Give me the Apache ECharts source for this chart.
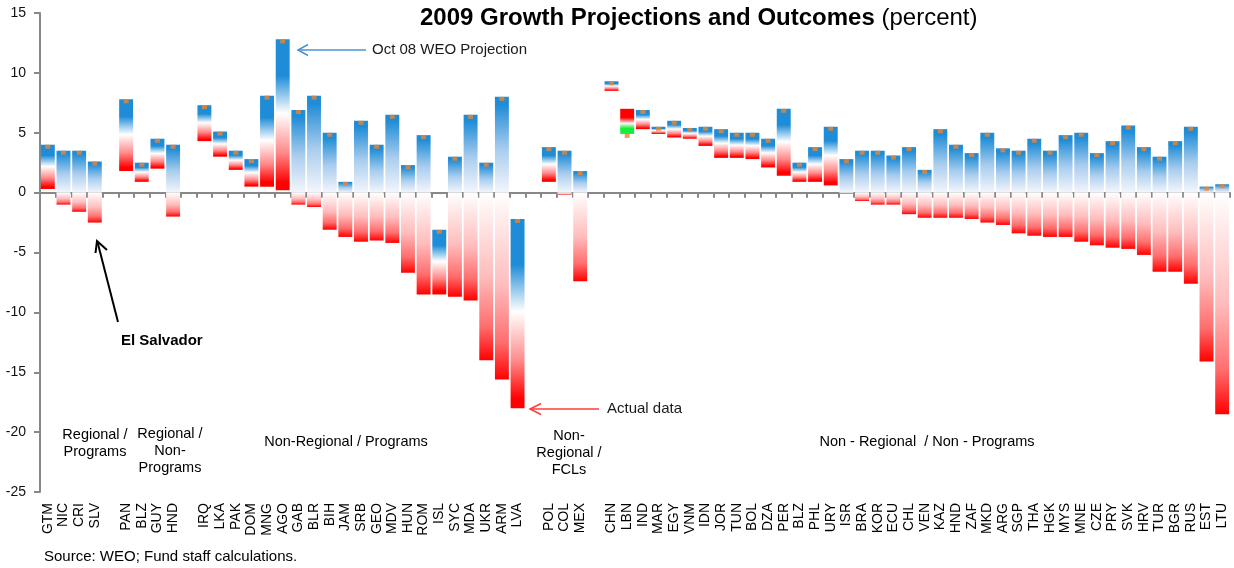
<!DOCTYPE html>
<html>
<head>
<meta charset="utf-8">
<script src="https://cdn.jsdelivr.net/npm/echarts@6/dist/echarts.min.js"></script>
<style>
html,body{margin:0;padding:0;background:#fff;}
#chart{width:1234px;height:568px;}
</style>
</head>
<body>
<div id="chart"></div>
<script>
// ---- data (gaps between country groups are empty categories) ----
const categories = ['GTM','NIC','CRI','SLV','','PAN','BLZ','GUY','HND','',
  'IRQ','LKA','PAK','DOM','MNG','AGO','GAB','BLR','BIH','JAM','SRB','GEO','MDV','HUN','ROM','ISL','SYC','MDA','UKR','ARM','LVA','',
  'POL','COL','MEX','',
  'CHN','LBN','IND','MAR','EGY','VNM','IDN','JOR','TUN','BOL','DZA','PER','BLZ','PHL','URY','ISR','BRA','KOR','ECU','CHL','VEN','KAZ','HND','ZAF','MKD','ARG','SGP','THA','HGK','MYS','MNE','CZE','PRY','SVK','HRV','TUR','BGR','RUS','EST','LTU'];

// Oct 08 WEO projection for 2009
const projection = [4.0,3.5,3.5,2.6,null,7.8,2.5,4.5,4.0,null,
  7.3,5.1,3.5,2.8,8.1,12.8,6.9,8.1,5.0,0.9,6.0,4.0,6.5,2.3,4.8,-3.1,3.0,6.5,2.5,8.0,-2.2,null,
  3.8,3.5,1.8,null,
  9.3,4.9,6.9,5.5,6.0,5.4,5.5,5.3,5.0,5.0,4.5,7.0,2.5,3.8,5.5,2.8,3.5,3.5,3.1,3.8,1.9,5.3,4.0,3.3,5.0,3.7,3.5,4.5,3.5,4.8,5.0,3.3,4.3,5.6,3.8,3.0,4.3,5.5,0.5,0.7];

// actual 2009 outcome
const actual = [0.3,-1.0,-1.6,-2.5,null,1.8,0.9,2.0,-2.0,null,
  4.3,3.0,1.9,0.5,0.5,0.2,-1.0,-1.2,-3.1,-3.7,-4.1,-4.0,-4.2,-6.7,-8.5,-8.5,-8.7,-9.0,-14.0,-15.6,-18.0,null,
  0.9,-0.2,-7.4,null,
  8.5,7.0,5.3,4.9,4.6,4.5,3.9,2.9,2.9,2.8,2.1,1.4,0.9,0.9,0.6,-0.1,-0.7,-1.0,-1.0,-1.8,-2.1,-2.1,-2.1,-2.2,-2.5,-2.7,-3.4,-3.6,-3.7,-3.7,-4.1,-4.4,-4.6,-4.7,-5.2,-6.6,-6.6,-7.6,-14.1,-18.5];

const yTicks = {min: -25, max: 15, interval: 5};

const groupLabels = [
  {text: 'Regional /\nPrograms', x: 95, y: 443},
  {text: 'Regional /\nNon-\nPrograms', x: 170, y: 451},
  {text: 'Non-Regional / Programs', x: 346, y: 442},
  {text: 'Non-\nRegional /\nFCLs', x: 569, y: 453},
  {text: 'Non - Regional  / Non - Programs', x: 927, y: 442}
];

// ---- styles ----
const FONT = '"Liberation Sans", Arial, Helvetica, sans-serif';
const BLUE = '#1E8CD7', RED = '#FF0000', GREEN = '#14EE3C', ORANGE = '#EE8430', AXIS = '#888888';
const lin = stops => ({type:'linear', x:0, y:0, x2:0, y2:1, colorStops: stops.map(s => ({offset:s[0], color:s[1]}))});
const gradMain = lin([[0,BLUE],[0.24,BLUE],[0.49,'#FFFFFF'],[0.75,'#FF8A8A'],[0.95,RED],[1,RED]]);
const gradPosFade = lin([[0,BLUE],[0.08,BLUE],[0.55,'#A9CDEE'],[1,'#F4F6FC']]);
const gradNeg = lin([[0,'#FFFFFF'],[0.5,'#FFBCBC'],[0.8,'#FF6E6E'],[1,RED]]);
const gradUp = lin([[0,RED],[0.35,RED],[0.58,'#FFF4F4'],[0.78,GREEN],[1,GREEN]]);

const barData = [];
const markerData = [];
categories.forEach((c, i) => {
  if (projection[i] == null) return;
  barData.push([i, projection[i], actual[i]]);
  markerData.push([i, projection[i]]);
});

function renderBar(params, api) {
  const x = api.value(0), p = api.value(1), a = api.value(2);
  const w = api.size([1, 0])[0] * 0.89;
  const cx = api.coord([x, 0])[0];
  const py = v => api.coord([x, v])[1];
  const children = [];
  const rect = (v1, v2, fill) => {
    const y1 = py(v1), y2 = py(v2);
    children.push({type:'rect', shape:{x: cx - w/2, y: Math.min(y1,y2), width: w, height: Math.max(Math.abs(y2-y1), 1)}, style:{fill: fill}});
  };
  if (a > p) rect(a, p, gradUp);
  else if (p > 0 && a < 0) { rect(p, 0, gradPosFade); rect(0, a, gradNeg); }
  else rect(p, a, gradMain);
  return {type:'group', children: children};
}

const chart = echarts.init(document.getElementById('chart'), null, {renderer:'canvas'});
const option = {
  animation: false,
  backgroundColor: '#ffffff',
  grid: {left: 40, right: 4, top: 13, bottom: 76, containLabel: false},
  xAxis: [
    {
      type: 'category', data: categories, boundaryGap: true,
      axisLine: {onZero: true, lineStyle: {color: AXIS, width: 2}},
      axisTick: {show: true, interval: 0, length: 5, lineStyle: {color: AXIS, width: 2}},
      axisLabel: {show: false}, splitLine: {show: false}
    },
    {
      type: 'category', data: categories, boundaryGap: true, position: 'bottom',
      axisLine: {show: false, onZero: false}, axisTick: {show: false},
      axisLabel: {show: true, interval: 0, rotate: 90, margin: 11, fontSize: 14, color: '#000', fontFamily: FONT},
      splitLine: {show: false}
    }
  ],
  yAxis: {
    type: 'value', min: yTicks.min, max: yTicks.max, interval: yTicks.interval,
    axisLine: {show: true, lineStyle: {color: AXIS, width: 2}},
    axisTick: {show: true, length: 6, lineStyle: {color: AXIS, width: 2}},
    axisLabel: {fontSize: 14, color: '#111', margin: 14, fontFamily: FONT},
    splitLine: {show: false}
  },
  series: [
    {type: 'custom', name: 'Growth', xAxisIndex: 0, renderItem: renderBar, data: barData, encode: {x: 0, y: [1, 2]}, z: 2},
    {type: 'scatter', name: 'Oct 08 WEO Projection', xAxisIndex: 0, data: markerData, symbol: 'rect', symbolSize: [5, 4], symbolOffset: [0, 2],
     itemStyle: {color: ORANGE}, z: 3, silent: true}
  ],
  graphic: [
    {type: 'text', left: 420, top: 6, style: {
      text: '{b|2009 Growth Projections and Outcomes}{n| (percent)}', fill: '#000',
      rich: {b: {fontSize: 24, fontWeight: 'bold', fontFamily: FONT, fill: '#000'}, n: {fontSize: 24, fontFamily: FONT, fill: '#000'}}
    }},
    // Oct 08 WEO Projection annotation
    {type: 'text', x: 372, y: 50, style: {text: 'Oct 08 WEO Projection', font: '15px ' + FONT, fill: '#1a1a1a', verticalAlign: 'middle'}},
    {type: 'polyline', shape: {points: [[366, 50], [298, 50]]}, style: {stroke: '#4A93CF', lineWidth: 1.5, fill: null}},
    {type: 'polyline', shape: {points: [[308, 44.5], [298, 50], [308, 55.5]]}, style: {stroke: '#4A93CF', lineWidth: 1.5, fill: null}},
    // Actual data annotation
    {type: 'text', x: 607, y: 409, style: {text: 'Actual data', font: '15px ' + FONT, fill: '#1a1a1a', verticalAlign: 'middle'}},
    {type: 'polyline', shape: {points: [[599, 409], [530, 409]]}, style: {stroke: '#FF3B3B', lineWidth: 1.5, fill: null}},
    {type: 'polyline', shape: {points: [[541, 403.5], [530, 409], [541, 414.5]]}, style: {stroke: '#FF3B3B', lineWidth: 1.5, fill: null}},
    // El Salvador annotation
    {type: 'text', x: 121, y: 341, style: {text: 'El Salvador', font: 'bold 15px ' + FONT, fill: '#000', verticalAlign: 'middle'}},
    {type: 'polyline', shape: {points: [[118, 322], [97.5, 242]]}, style: {stroke: '#000', lineWidth: 2, fill: null}},
    {type: 'polyline', shape: {points: [[95.5, 253], [97, 241], [107, 250]]}, style: {stroke: '#000', lineWidth: 2, fill: null}},
    // source
    {type: 'text', x: 44, y: 557, style: {text: 'Source: WEO; Fund staff calculations.', font: '15px ' + FONT, fill: '#000', verticalAlign: 'middle'}}
  ].concat(groupLabels.map(g => ({
    type: 'text', x: g.x, y: g.y,
    style: {text: g.text, font: '14.5px ' + FONT, fill: '#000', align: 'center', verticalAlign: 'middle', lineHeight: 17}
  })))
};
chart.setOption(option);
</script>
</body>
</html>
